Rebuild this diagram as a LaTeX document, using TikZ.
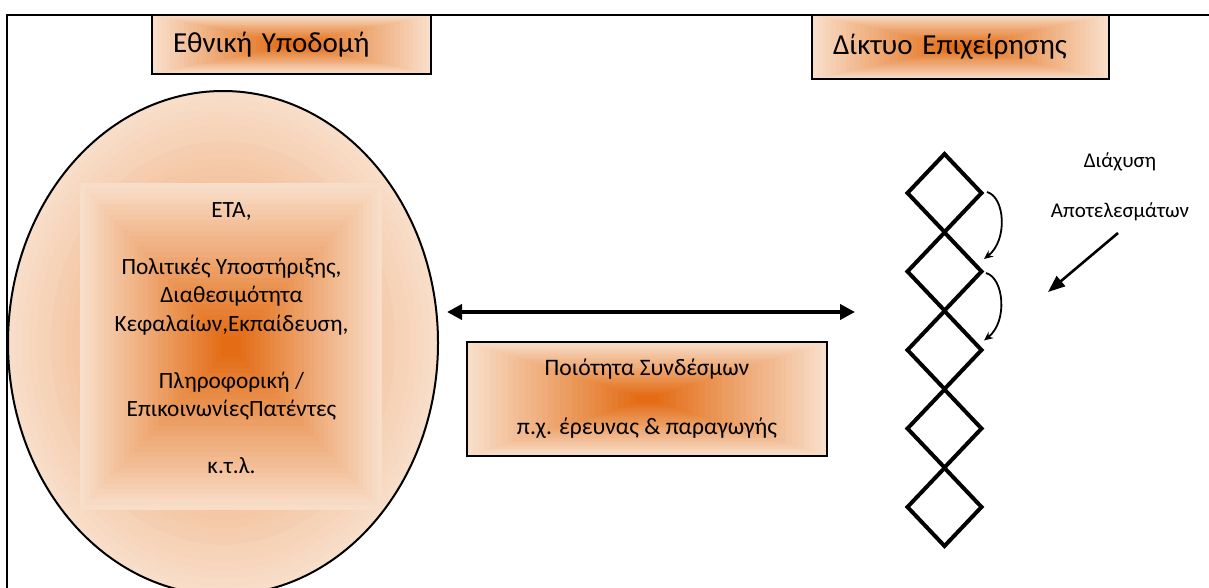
\documentclass[tikz,border=0pt]{standalone}
\usepackage{fontspec}
\setmainfont{Carlito}
\usetikzlibrary{shapes.geometric,arrows.meta,calc}
\definecolor{pea}{HTML}{F8DDC8}
\definecolor{ora}{HTML}{E36C14}
\tikzset{
  rectgrad/.style={path picture={
    \foreach \i in {0,...,29}{
      \pgfmathsetmacro\s{1-\i/31}
      \pgfmathtruncatemacro\p{100*\i/29}
      \fill[ora!\p!pea] ($(path picture bounding box.center)!\s!(path picture bounding box.north east)$) rectangle ($(path picture bounding box.center)!\s!(path picture bounding box.south west)$);
    }}},
  ellgrad/.style={path picture={
    \foreach \i in {0,...,29}{
      \pgfmathsetmacro\s{1-\i/30}
      \pgfmathtruncatemacro\p{65*\i/30}
      \fill[ora!\p!pea] (path picture bounding box.center) ellipse [x radius={215pt*\s}, y radius={252pt*\s}];
    }}},
  box/.style={draw,line width=2pt,rectangle,outer sep=0pt},
  titlebox/.style={box,rectgrad,anchor=north west,inner xsep=21pt,inner ysep=0pt,align=left,font=\fontsize{29pt}{35pt}\selectfont},
  dia/.style={draw,diamond,line width=4pt,minimum width=74pt,minimum height=78pt,inner sep=0pt,outer sep=0pt},
  curvearrow/.style={line width=1.8pt,-{Stealth[length=9pt,width=8pt]}},
}
\begin{document}
\begin{tikzpicture}[x=1pt,y=-1pt]
\useasboundingbox (0,0) rectangle (1209,588);
\clip (0,0) rectangle (1209,588);
\fill[white] (0,0) rectangle (1209,588);
% frame
\draw[line width=2pt] (7,600) -- (7,15) -- (1220,15);
% title boxes
\node[titlebox,minimum width=279pt,minimum height=59pt,text width=237pt] (ni) at (152,15) {Εθνική Υποδομή};
\node[titlebox,minimum width=297pt,minimum height=64pt,text width=255pt] (nd) at (812,15) {Δίκτυο Επιχείρησης};
% ellipse
\node[draw,line width=2pt,ellipse,ellgrad,minimum width=430pt,minimum height=504pt,inner sep=0pt] (ell) at (223,343) {};
\path[rectgrad] (80,183) rectangle (382,510);
\node[align=center,font=\fontsize{23.3pt}{28.5pt}\selectfont] (etxt) at (231.5,338) {ΕΤΑ,\\[28.5pt]Πολιτικές Υποστήριξης,\\Διαθεσιμότητα\\Κεφαλαίων,Εκπαίδευση,\\[28.5pt]Πληροφορική /\\ΕπικοινωνίεςΠατέντες\\[28.5pt]κ.τ.λ.};
% double arrow
\coordinate (aL) at (447,312);
\coordinate (aR) at (855,312);
\draw[line width=4pt,{Triangle[length=15pt,width=15pt]}-{Triangle[length=15pt,width=15pt]}] (aL) -- (aR);
% link box
\node[box,rectgrad,minimum width=360pt,minimum height=114pt,inner sep=0pt,align=center,font=\fontsize{23.6pt}{29.5pt}\selectfont] (link) at (647,399) {Ποιότητα Συνδέσμων\\[29.5pt]π.χ. έρευνας \& παραγωγής};
% diamonds
\foreach \i in {1,...,5}{
  \node[dia] (d\i) at (944.5,{193+78.5*(\i-1)}) {};
}
\draw[curvearrow] ($(d1.east)+(5.5,-1)$) .. controls ($(d1.east)+(23.5,4)$) and ($(d2.east)+(26.5,-31.5)$) .. ($(d2.east)+(2.5,-12.5)$);
\draw[curvearrow] ($(d2.east)+(4.5,1.5)$) .. controls ($(d2.east)+(22.5,6.5)$) and ($(d3.east)+(26.5,-28.5)$) .. ($(d3.east)+(2.5,-9.5)$);
% label
\node[align=center,font=\fontsize{21pt}{50pt}\selectfont] (lbl) at (1120,187) {Διάχυση\\Αποτελεσμάτων};
\coordinate (s1) at (1118,233);
\coordinate (s2) at (1048,292);
\draw[line width=2.6pt,-{Triangle[length=17pt,width=13pt]}] (s1) -- (s2);
\end{tikzpicture}
\end{document}
